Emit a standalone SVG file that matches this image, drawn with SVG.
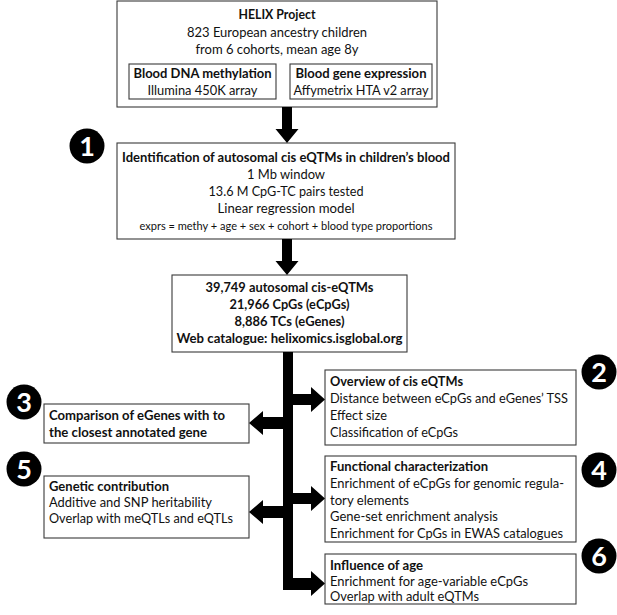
<svg xmlns="http://www.w3.org/2000/svg" width="617" height="615" viewBox="0 0 617 615">
<style>
.box{fill:#fff;stroke:#3a3a3a;stroke-width:1.1}
.t{font-family:Lato,"Open Sans","Liberation Sans",sans-serif;font-size:13.2px;fill:#111}
.b{font-weight:bold}
.c{text-anchor:middle}
.s{font-size:11.3px}
.num{font-family:Lato,"Open Sans","Liberation Sans",sans-serif;font-size:27px;font-weight:bold;fill:#fff;text-anchor:middle}
.dot{fill:#000}
.arr{fill:#000}
</style>
<rect width="617" height="615" fill="#fff"/>
<g id="helix">
<rect class="box" x="117" y="1" width="320" height="106"/>
<text class="t b c" x="277" y="19" textLength="77" lengthAdjust="spacingAndGlyphs">HELIX Project</text>
<text class="t c" x="277" y="37" textLength="180" lengthAdjust="spacingAndGlyphs">823 European ancestry children</text>
<text class="t c" x="277" y="54" textLength="163" lengthAdjust="spacingAndGlyphs">from 6 cohorts, mean age 8y</text>
<g id="methylation">
<rect class="box" x="129" y="64" width="147" height="35"/>
<text class="t b c" x="202.5" y="78" textLength="138" lengthAdjust="spacingAndGlyphs">Blood DNA methylation</text>
<text class="t c" x="202.5" y="95" textLength="110" lengthAdjust="spacingAndGlyphs">Illumina 450K array</text>
</g>
<g id="expression">
<rect class="box" x="290" y="64" width="142" height="35"/>
<text class="t b c" x="361" y="78" textLength="131" lengthAdjust="spacingAndGlyphs">Blood gene expression</text>
<text class="t c" x="361" y="95" textLength="135" lengthAdjust="spacingAndGlyphs">Affymetrix HTA v2 array</text>
</g>
</g>
<g id="step1">
<circle class="dot" cx="87" cy="146" r="17.5"/>
<text class="num" x="87" y="155.5">1</text>
<rect class="box" x="117" y="143" width="338" height="96"/>
<text class="t b c" x="286" y="162" textLength="328" lengthAdjust="spacingAndGlyphs">Identification of autosomal cis eQTMs in children’s blood</text>
<text class="t c" x="286" y="179" textLength="78" lengthAdjust="spacingAndGlyphs">1 Mb window</text>
<text class="t c" x="286" y="196" textLength="155" lengthAdjust="spacingAndGlyphs">13.6 M CpG-TC pairs tested</text>
<text class="t c" x="286" y="213" textLength="137" lengthAdjust="spacingAndGlyphs">Linear regression model</text>
<text class="t s c" x="286" y="230" textLength="293" lengthAdjust="spacingAndGlyphs">exprs = methy + age + sex + cohort + blood type proportions</text>
</g>
<g id="results">
<rect class="box" x="172" y="275" width="235" height="77"/>
<text class="t b c" x="289.5" y="292" textLength="168" lengthAdjust="spacingAndGlyphs">39,749 autosomal cis-eQTMs</text>
<text class="t b c" x="289.5" y="309" textLength="120" lengthAdjust="spacingAndGlyphs">21,966 CpGs (eCpGs)</text>
<text class="t b c" x="289.5" y="326" textLength="110" lengthAdjust="spacingAndGlyphs">8,886 TCs (eGenes)</text>
<text class="t b c" x="289.5" y="343" textLength="226" lengthAdjust="spacingAndGlyphs">Web catalogue: helixomics.isglobal.org</text>
</g>
<g id="overview">
<circle class="dot" cx="599" cy="372" r="17.5"/>
<text class="num" x="599" y="381.5">2</text>
<rect class="box" x="325" y="370" width="251" height="75"/>
<text class="t b" x="330" y="386" textLength="133" lengthAdjust="spacingAndGlyphs">Overview of cis eQTMs</text>
<text class="t" x="330" y="403" textLength="238" lengthAdjust="spacingAndGlyphs">Distance between eCpGs and eGenes’ TSS</text>
<text class="t" x="330" y="420" textLength="57" lengthAdjust="spacingAndGlyphs">Effect size</text>
<text class="t" x="330" y="437" textLength="128" lengthAdjust="spacingAndGlyphs">Classification of eCpGs</text>
</g>
<g id="comparison">
<circle class="dot" cx="24" cy="402" r="17.5"/>
<text class="num" x="24" y="411.5">3</text>
<rect class="box" x="44" y="404" width="205" height="39"/>
<text class="t b" x="49" y="420" textLength="176" lengthAdjust="spacingAndGlyphs">Comparison of eGenes with to</text>
<text class="t b" x="49" y="437" textLength="158" lengthAdjust="spacingAndGlyphs">the closest annotated gene</text>
</g>
<g id="functional">
<circle class="dot" cx="599" cy="470" r="17.5"/>
<text class="num" x="599" y="479.5">4</text>
<rect class="box" x="325" y="456" width="251" height="86"/>
<text class="t b" x="330" y="471" textLength="158" lengthAdjust="spacingAndGlyphs">Functional characterization</text>
<text class="t" x="330" y="488" textLength="234" lengthAdjust="spacingAndGlyphs">Enrichment of eCpGs for genomic regula-</text>
<text class="t" x="330" y="504.5" textLength="79" lengthAdjust="spacingAndGlyphs">tory elements</text>
<text class="t" x="330" y="521" textLength="168" lengthAdjust="spacingAndGlyphs">Gene-set enrichment analysis</text>
<text class="t" x="330" y="537.5" textLength="233" lengthAdjust="spacingAndGlyphs">Enrichment for CpGs in EWAS catalogues</text>
</g>
<g id="genetic">
<circle class="dot" cx="24" cy="469" r="17.5"/>
<text class="num" x="24" y="478.5">5</text>
<rect class="box" x="44" y="476" width="205" height="62"/>
<text class="t b" x="49" y="491" textLength="120" lengthAdjust="spacingAndGlyphs">Genetic contribution</text>
<text class="t" x="49" y="507" textLength="163" lengthAdjust="spacingAndGlyphs">Additive and SNP heritability</text>
<text class="t" x="49" y="523" textLength="184" lengthAdjust="spacingAndGlyphs">Overlap with meQTLs and eQTLs</text>
</g>
<g id="age">
<circle class="dot" cx="599" cy="556" r="17.5"/>
<text class="num" x="599" y="565.5">6</text>
<rect class="box" x="325" y="554" width="251" height="50"/>
<text class="t b" x="330" y="570" textLength="93" lengthAdjust="spacingAndGlyphs">Influence of age</text>
<text class="t" x="330" y="585.5" textLength="198" lengthAdjust="spacingAndGlyphs">Enrichment for age-variable eCpGs</text>
<text class="t" x="330" y="600.5" textLength="149" lengthAdjust="spacingAndGlyphs">Overlap with adult eQTMs</text>
</g>
<g id="connectors">
<polygon class="arr" points="282,107 292,107 292,129 298.5,129 287,143 275.5,129 282,129"/>
<polygon class="arr" points="282,239 292,239 292,261 298.5,261 287,275 275.5,261 282,261"/>
<rect class="arr" x="283" y="352" width="10" height="238"/>
<polygon class="arr" points="293,394 311,394 311,387 325,399.5 311,412 311,405 293,405"/>
<polygon class="arr" points="293,493 311,493 311,486 325,498.5 311,511 311,504 293,504"/>
<polygon class="arr" points="293,578 311,578 311,571 325,583.5 311,596 311,590 293,590"/>
<polygon class="arr" points="283,417 263,417 263,411 249,423 263,435 263,429 283,429"/>
<polygon class="arr" points="283,506 263,506 263,500 249,512 263,524 263,518 283,518"/>
</g>
</svg>
